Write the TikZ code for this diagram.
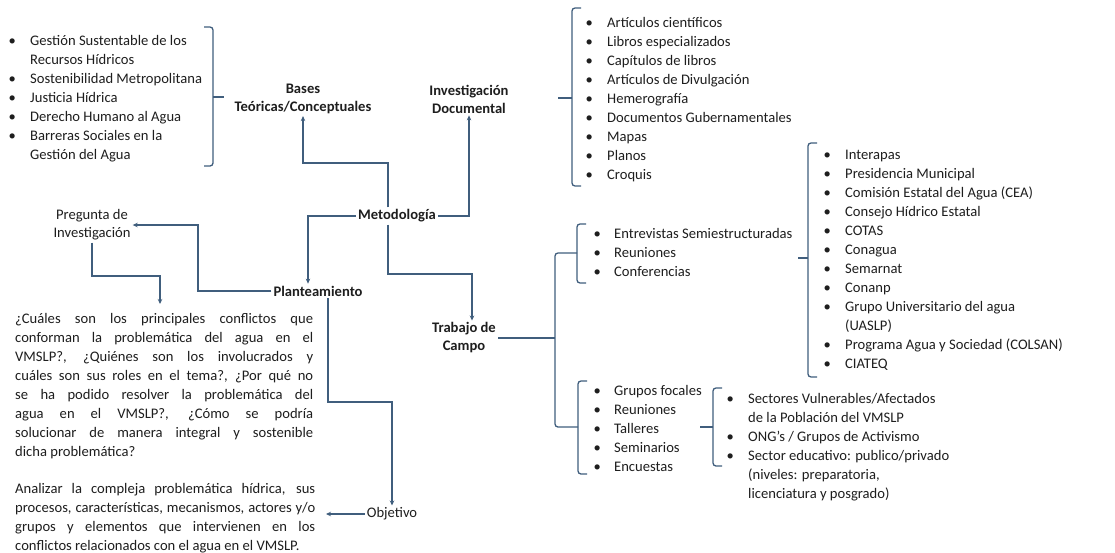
\documentclass[tikz,border=0pt]{standalone}
\usepackage{fontspec}
\setmainfont{Carlito}
\usetikzlibrary{arrows.meta}
\definecolor{ln}{RGB}{64,94,125}
\definecolor{tx}{RGB}{30,30,30}
\newcommand\lbrk[5]{%
  \draw[conn,rounded corners=3pt] (#1+9,#2) -- (#1,#2) -- (#1,#3) -- (#1+9,#3);
  \draw[conn] (#1,#4) -- (#1-#5,#4);}
\begin{document}
\begin{tikzpicture}[x=1pt,y=-1pt,
  font=\fontsize{14.6}{19}\selectfont,
  every node/.style={text=tx},
  conn/.style={draw=ln,line width=1.3pt},
  arr/.style={conn,-{Stealth[length=5pt,width=4.5pt]}},
  lbl/.style={font=\fontsize{14.6}{18}\selectfont\bfseries,align=center,inner sep=2pt},
  plain/.style={font=\fontsize{14.6}{18}\selectfont,align=center,inner sep=2pt},
  lst/.style={anchor=north west,inner sep=0pt}]
\fill[white] (0,0) rectangle (1115,552);
\useasboundingbox (0,0) rectangle (1115,552);

% ---- labels
\node[lbl] (bases) at (303,99) {Bases\\Teóricas/Conceptuales};
\node[lbl] (invdoc) at (469,99) {Investigación\\Documental};
\node[lbl] (meto) at (397,216) {Metodología};
\node[lbl] (plant) at (318,291) {Planteamiento};
\node[lbl] (trab) at (464,338) {Trabajo de\\Campo};
\node[plain] (preg) at (92,225) {Pregunta de\\Investigación};
\node[plain] (obj) at (392,514) {Objetivo};

% ---- lists
\node[lst] (theo) at (8.4,31.7) {\begin{tabular}{@{}p{21.6pt}@{}l@{}}
•&Gestión Sustentable de los\\
&Recursos Hídricos\\
•&Sostenibilidad Metropolitana\\
•&Justicia Hídrica\\
•&Derecho Humano al Agua\\
•&Barreras Sociales en la\\
&Gestión del Agua
\end{tabular}};

\node[lst] (art) at (585.4,13.7) {\begin{tabular}{@{}p{21.6pt}@{}l@{}}
•&Artículos científicos\\
•&Libros especializados\\
•&Capítulos de libros\\
•&Artículos de Divulgación\\
•&Hemerografía\\
•&Documentos Gubernamentales\\
•&Mapas\\
•&Planos\\
•&Croquis
\end{tabular}};

\node[lst] (ent) at (593.4,224.7) {\begin{tabular}{@{}p{20.6pt}@{}l@{}}
•&Entrevistas Semiestructuradas\\
•&Reuniones\\
•&Conferencias
\end{tabular}};

\node[lst] (org) at (823.4,145.7) {\begin{tabular}{@{}p{21.6pt}@{}l@{}}
•&Interapas\\
•&Presidencia Municipal\\
•&Comisión Estatal del Agua (CEA)\\
•&Consejo Hídrico Estatal\\
•&COTAS\\
•&Conagua\\
•&Semarnat\\
•&Conanp\\
•&Grupo Universitario del agua\\
&(UASLP)\\
•&Programa Agua y Sociedad (COLSAN)\\
•&CIATEQ
\end{tabular}};

\node[lst] (grp) at (593.4,381.7) {\begin{tabular}{@{}p{20.6pt}@{}l@{}}
•&Grupos focales\\
•&Reuniones\\
•&Talleres\\
•&Seminarios\\
•&Encuestas
\end{tabular}};

\node[lst] (sec) at (726.4,389.7) {\begin{tabular}{@{}p{21.6pt}@{}l@{}}
•&Sectores Vulnerables/Afectados\\
&de la Población del VMSLP\\
•&ONG’s / Grupos de Activismo\\
•&Sector educativo: publico/privado\\
&(niveles: preparatoria,\\
&licenciatura y posgrado)
\end{tabular}};

% ---- paragraphs
\node[lst] (qtext) at (15,309.7) {\begin{tabular}{@{}l@{}}
\makebox[298pt][s]{¿Cuáles son los principales conflictos que}\\
\makebox[298pt][s]{conforman la problemática del agua en el}\\
\makebox[298pt][s]{VMSLP?, ¿Quiénes son los involucrados y}\\
\makebox[298pt][s]{cuáles son sus roles en el tema?, ¿Por qué no}\\
\makebox[298pt][s]{se ha podido resolver la problemática del}\\
\makebox[298pt][s]{agua en el VMSLP?, ¿Cómo se podría}\\
\makebox[298pt][s]{solucionar de manera integral y sostenible}\\
dicha problemática?
\end{tabular}};

\node[lst] (atext) at (15,479.7) {\begin{tabular}{@{}l@{}}
\makebox[300pt][s]{Analizar la compleja problemática hídrica, sus}\\
\makebox[300pt][s]{procesos, características, mecanismos, actores y/o}\\
\makebox[300pt][s]{grupos y elementos que intervienen en los}\\
conflictos relacionados con el agua en el VMSLP.
\end{tabular}};

% ---- brackets
\draw[conn,rounded corners=3pt] (204,27) -- (213,27) -- (213,166) -- (204,166);
\draw[conn] (213,97) -- (224,97);
\lbrk{572}{8}{186}{98}{14}
\lbrk{808}{143}{377}{258}{10}
\lbrk{713}{388}{466}{427}{13}
\draw[conn,rounded corners=3pt] (586,224) -- (577,224) -- (577,283) -- (586,283);
\draw[conn,rounded corners=3pt] (587,381) -- (578,381) -- (578,474) -- (587,474);

% ---- connectors
\coordinate (b1) at (303,163);
\draw[arr] ([xshift=-9pt]meto.north) |- (b1) -- (bases.south);
\draw[arr] (meto.east) -| (invdoc.south);
\draw[arr] (meto.west) -| ([xshift=-10pt]plant.north);
\coordinate (q1) at (198,291);
\draw[arr] (plant.west) -- (q1) |- (preg.east);
\coordinate (q2) at (160,276);
\coordinate (q3) at (160,304);
\draw[arr] (preg.south) |- (q2) -- (q3);
\coordinate (t1) at (472,274);
\draw[arr] ([xshift=-9pt]meto.south) |- (t1) -- ([xshift=8pt]trab.north);
\coordinate (o1) at (392,402);
\draw[arr] ([xshift=10pt]plant.south) |- (o1) -- (obj.north);
\coordinate (o2) at (326,514);
\draw[arr] (obj.west) -- (o2);
\coordinate (c0) at (555,338);
\draw[conn] (trab.east) -- (c0);
\draw[conn,rounded corners=3pt] (577,253) -- (555,253) -- (555,427) -- (578,427);
\end{tikzpicture}
\end{document}
